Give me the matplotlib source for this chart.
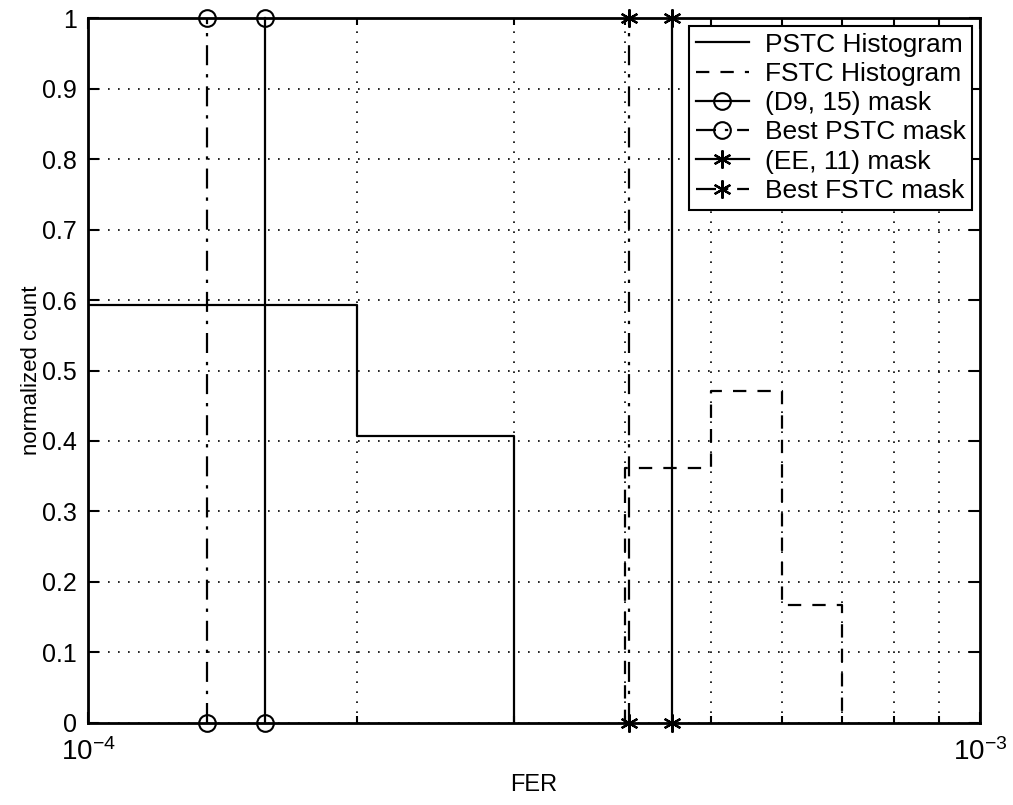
import numpy as np
import matplotlib
matplotlib.use("Agg")
import matplotlib.pyplot as plt
from matplotlib.ticker import LogLocator, NullFormatter, FixedLocator

plt.rcParams['font.family'] = ['Liberation Sans', 'DejaVu Sans']

# Histogram data (bin edges in FER, normalized counts)
pstc_edges = [1e-4, 2e-4, 3e-4]
pstc_counts = [0.593, 0.407]
fstc_edges = [4e-4, 5e-4, 6e-4, 7e-4]
fstc_counts = [0.362, 0.471, 0.167]

# Mask FER values
d9_mask = 1.58e-4
best_pstc_mask = 1.36e-4
ee_mask = 4.52e-4
best_fstc_mask = 4.04e-4

legend_labels = ['PSTC Histogram', 'FSTC Histogram', '(D9, 15) mask',
                 'Best PSTC mask', '(EE, 11) mask', 'Best FSTC mask']


def stairs_xy(edges, counts):
    """Build outline of a step histogram that starts and ends at zero"""
    xs = [edges[0]]
    ys = [0]
    for i, c in enumerate(counts):
        xs += [edges[i], edges[i + 1]]
        ys += [c, c]
    xs.append(edges[-1])
    ys.append(0)
    return xs, ys


fig = plt.figure(figsize=(10.13, 8.05), dpi=100)
ax = fig.add_axes([0.0869, 0.1019, 0.8805, 0.8757])

lw = 1.6
ms = 12
dashdot = (0, (9, 4, 1.5, 4))

px, py = stairs_xy(pstc_edges, pstc_counts)
ax.plot(px, py, color='k', linestyle='-', linewidth=lw, label=legend_labels[0])
fx, fy = stairs_xy(fstc_edges, fstc_counts)
ax.plot(fx, fy, color='k', linestyle=(0, (6, 5)), linewidth=lw, label=legend_labels[1])

ax.plot([d9_mask, d9_mask], [0, 1], color='k', linestyle='-', linewidth=lw,
        marker='o', markersize=ms, markerfacecolor='none', markeredgewidth=1.5,
        label=legend_labels[2], clip_on=False)
ax.plot([best_pstc_mask, best_pstc_mask], [0, 1], color='k', linestyle=dashdot,
        linewidth=lw, marker='o', markersize=ms, markerfacecolor='none',
        markeredgewidth=1.5, label=legend_labels[3], clip_on=False)
ax.plot([ee_mask, ee_mask], [0, 1], color='k', linestyle='-', linewidth=lw,
        marker=(6, 2, 0), markersize=ms + 1, markeredgewidth=1.6,
        label=legend_labels[4], clip_on=False)
ax.plot([best_fstc_mask, best_fstc_mask], [0, 1], color='k', linestyle=dashdot,
        linewidth=lw, marker=(6, 2, 0), markersize=ms + 1, markeredgewidth=1.6,
        label=legend_labels[5], clip_on=False)

ax.set_xscale('log')
ax.set_xlim(1e-4, 1e-3)
ax.set_ylim(0, 1)
ax.set_yticks(np.arange(0, 1.01, 0.1))
ax.set_yticklabels(['0', '0.1', '0.2', '0.3', '0.4', '0.5', '0.6', '0.7', '0.8', '0.9', '1'])
ax.xaxis.set_major_locator(FixedLocator([1e-4, 1e-3]))
ax.xaxis.set_minor_locator(LogLocator(base=10, subs=np.arange(2, 10)))
ax.xaxis.set_minor_formatter(NullFormatter())

ax.grid(True, which='major', axis='y', color='k', linestyle=(0, (1, 5)), linewidth=1.2)
ax.grid(True, which='minor', axis='x', color='k', linestyle=(0, (1, 5)), linewidth=1.2)

ax.tick_params(which='both', direction='in', top=True, right=True, width=1.5)
ax.tick_params(axis='y', which='major', labelsize=18, length=8, pad=8)
ax.tick_params(axis='x', which='major', labelsize=20, length=8, pad=11)
ax.tick_params(which='minor', length=5)
for s in ax.spines.values():
    s.set_linewidth(2)

ax.set_xlabel('FER', fontsize=17, labelpad=6)
ax.set_ylabel('normalized count', fontsize=16, labelpad=0)

leg = ax.legend(loc='upper right', fontsize=19, frameon=True, fancybox=False,
                edgecolor='k', framealpha=1, borderaxespad=0.3, labelspacing=0.2,
                handlelength=2.0, handletextpad=0.6, borderpad=0.25)
leg.get_frame().set_linewidth(1.5)

fig.savefig('out.png', dpi=100)
